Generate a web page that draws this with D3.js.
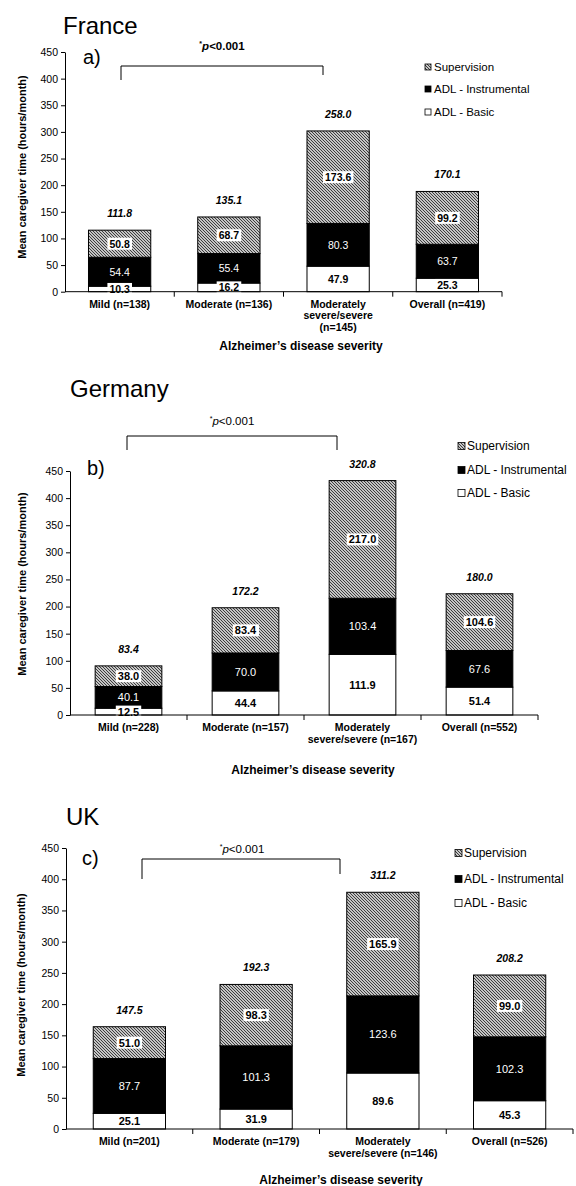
<!DOCTYPE html>
<html>
<head>
<meta charset="utf-8">
<script src="https://cdn.jsdelivr.net/npm/d3@7"></script>
<style>
  body { margin: 0; background: #fff; }
  svg { display: block; font-family: "Liberation Sans", Arial, Helvetica, sans-serif; }
</style>
</head>
<body>
<svg id="chart" width="576" height="1186"></svg>
<script>
// ---- data (hours/month) ----
const seriesNames = ["Supervision", "ADL - Instrumental", "ADL - Basic"];
const yTickValues = [0, 50, 100, 150, 200, 250, 300, 350, 400, 450];

const franceBasic        = [10.3, 16.2, 47.9, 25.3];
const franceInstrumental = [54.4, 55.4, 80.3, 63.7];
const franceSupervision  = [50.8, 68.7, 173.6, 99.2];
const franceTotals       = [111.8, 135.1, 258.0, 170.1];
const franceTickLabels   = [["Mild (n=138)"], ["Moderate (n=136)"], ["Moderately", "severe/severe", "(n=145)"], ["Overall (n=419)"]];

const germanyBasic        = [12.5, 44.4, 111.9, 51.4];
const germanyInstrumental = [40.1, 70.0, 103.4, 67.6];
const germanySupervision  = [38.0, 83.4, 217.0, 104.6];
const germanyTotals       = [83.4, 172.2, 320.8, 180.0];
const germanyTickLabels   = [["Mild (n=228)"], ["Moderate (n=157)"], ["Moderately", "severe/severe (n=167)"], ["Overall (n=552)"]];

const ukBasic        = [25.1, 31.9, 89.6, 45.3];
const ukInstrumental = [87.7, 101.3, 123.6, 102.3];
const ukSupervision  = [51.0, 98.3, 165.9, 99.0];
const ukTotals       = [147.5, 192.3, 311.2, 208.2];
const ukTickLabels   = [["Mild (n=201)"], ["Moderate (n=179)"], ["Moderately", "severe/severe (n=146)"], ["Overall (n=526)"]];

const svg = d3.select("#chart");

// diagonal hatch used for the Supervision component
const defs = svg.append("defs");
const hatch = defs.append("pattern")
  .attr("id", "hatch").attr("patternUnits", "userSpaceOnUse")
  .attr("width", 3).attr("height", 3);
hatch.append("rect").attr("width", 3).attr("height", 3).attr("fill", "#fff");
hatch.append("path")
  .attr("d", "M-1,-1L4,4M-1,2L1,4M2,-1L4,1")
  .attr("stroke", "#333").attr("stroke-width", 1.1);

const fills = { sup: "url(#hatch)", ins: "#000", bas: "#fff" };

// layout for each country panel
const panels = [
  {
    title: "France", titleX: 63, titleY: 34, tag: "a)", tagX: 83, tagY: 64,
    x0: 65, x1: 502, yZero: 291.7, yTop: 52,
    basic: franceBasic, instr: franceInstrumental, sup: franceSupervision,
    totals: franceTotals, ticks: franceTickLabels,
    bracket: { l: 121, r: 323, y: 66, lb: 80, rb: 75, tx: 222, ty: 50, bold: true },
    legend: { sx: 425, tx: 434, ys: [67, 89, 112], size: 11.5, sw: 6 },
    yTitle: { x: 22, y: 167 }, xTitle: { x: 301, y: 350 },
    labelSize: 10.5, tickSize: 10.5
  },
  {
    title: "Germany", titleX: 70, titleY: 397, tag: "b)", tagX: 87, tagY: 475,
    x0: 70, x1: 538, yZero: 715, yTop: 471,
    basic: germanyBasic, instr: germanyInstrumental, sup: germanySupervision,
    totals: germanyTotals, ticks: germanyTickLabels,
    bracket: { l: 127, r: 337, y: 436, lb: 450, rb: 450, tx: 232, ty: 425, bold: false },
    legend: { sx: 458, tx: 467, ys: [446, 470, 493], size: 12, sw: 7 },
    yTitle: { x: 22, y: 584 }, xTitle: { x: 313, y: 774 },
    labelSize: 11, tickSize: 10.5
  },
  {
    title: "UK", titleX: 66, titleY: 825, tag: "c)", tagX: 82, tagY: 865,
    x0: 66, x1: 573, yZero: 1129, yTop: 848,
    basic: ukBasic, instr: ukInstrumental, sup: ukSupervision,
    totals: ukTotals, ticks: ukTickLabels,
    bracket: { l: 142, r: 340, y: 859, lb: 879, rb: 874, tx: 242, ty: 853, bold: false },
    legend: { sx: 455, tx: 464, ys: [853, 879, 903], size: 12, sw: 7 },
    yTitle: { x: 21, y: 985 }, xTitle: { x: 341, y: 1184 },
    labelSize: 11, tickSize: 10.5
  }
];

panels.forEach(p => {
  const g = svg.append("g");
  const cats = d3.range(p.basic.length);

  const x = d3.scaleBand().domain(cats).range([p.x0, p.x1]).padding(0);
  const barW = x.bandwidth() * 0.57;
  const y = d3.scaleLinear().domain([0, 450]).range([p.yZero, p.yTop]);

  const rows = cats.map(i => ({
    i,
    bas: p.basic[i], ins: p.instr[i], sup: p.sup[i], total: p.totals[i]
  }));
  const stack = d3.stack().keys(["bas", "ins", "sup"])(rows);

  // titles
  g.append("text").attr("x", p.titleX).attr("y", p.titleY)
    .attr("font-size", 24).attr("fill", "#000").text(p.title);
  g.append("text").attr("x", p.tagX).attr("y", p.tagY)
    .attr("font-size", 20).attr("fill", "#000").text(p.tag);

  // stacked bars
  stack.forEach(layer => {
    g.append("g").selectAll("rect").data(layer).join("rect")
      .attr("x", d => x(d.data.i) + (x.bandwidth() - barW) / 2)
      .attr("y", d => y(d[1]))
      .attr("width", barW)
      .attr("height", d => y(d[0]) - y(d[1]))
      .attr("fill", fills[layer.key])
      .attr("stroke", "#000").attr("stroke-width", 1);
  });

  // segment labels
  stack.forEach(layer => {
    layer.forEach(d => {
      const cx = x(d.data.i) + x.bandwidth() / 2;
      const cy = y((d[0] + d[1]) / 2);
      const val = d.data[layer.key];
      const lg = g.append("g");
      const t = lg.append("text")
        .attr("x", cx).attr("y", cy)
        .attr("text-anchor", "middle").attr("dominant-baseline", "central")
        .attr("font-size", p.labelSize)
        .attr("font-weight", layer.key === "ins" ? "normal" : "bold")
        .attr("fill", layer.key === "ins" ? "#fff" : "#000")
        .text(val.toFixed(1));
      if (layer.key !== "ins") {
        const bb = t.node().getBBox();
        lg.insert("rect", "text")
          .attr("x", bb.x - 2).attr("y", bb.y)
          .attr("width", bb.width + 4).attr("height", bb.height)
          .attr("fill", "#fff");
      }
    });
  });

  // totals above bars
  const top = stack[stack.length - 1];
  g.append("g").selectAll("text").data(top).join("text")
    .attr("x", d => x(d.data.i) + x.bandwidth() / 2)
    .attr("y", d => y(d[1]) - 13)
    .attr("text-anchor", "middle")
    .attr("font-size", 10.5).attr("font-weight", "bold").attr("font-style", "italic")
    .text(d => d.data.total.toFixed(1));

  // y axis
  const yAxis = d3.axisLeft(y).tickValues(yTickValues).tickSize(4).tickPadding(3).tickSizeOuter(0);
  const ya = g.append("g").attr("transform", `translate(${p.x0},0)`).call(yAxis);
  ya.select(".domain").attr("stroke", "#000");
  ya.selectAll(".tick line").attr("stroke", "#000");
  ya.selectAll(".tick text").attr("font-size", p.tickSize)
    .attr("font-family", "Liberation Sans, Arial, sans-serif").attr("fill", "#000");

  // x axis with category boundary ticks
  const xa = g.append("g");
  xa.append("line").attr("x1", p.x0).attr("x2", p.x1)
    .attr("y1", p.yZero).attr("y2", p.yZero).attr("stroke", "#000");
  xa.selectAll("line.tk").data(cats.slice(1).concat([cats.length])).join("line")
    .attr("class", "tk")
    .attr("x1", i => i < cats.length ? x(i) : p.x1)
    .attr("x2", i => i < cats.length ? x(i) : p.x1)
    .attr("y1", p.yZero).attr("y2", p.yZero + 5).attr("stroke", "#000");

  // category labels
  cats.forEach(i => {
    const t = g.append("text")
      .attr("text-anchor", "middle")
      .attr("font-size", 10.5).attr("font-weight", "bold");
    p.ticks[i].forEach((line, k) => {
      t.append("tspan").attr("x", x(i) + x.bandwidth() / 2)
        .attr("y", p.yZero + 16 + k * 11.5).text(line);
    });
  });

  // axis titles
  g.append("text").attr("x", p.xTitle.x).attr("y", p.xTitle.y)
    .attr("text-anchor", "middle").attr("font-size", 12).attr("font-weight", "bold")
    .text("Alzheimer\u2019s disease severity");
  g.append("text")
    .attr("transform", `translate(${p.yTitle.x},${p.yTitle.y}) rotate(-90)`)
    .attr("text-anchor", "middle").attr("dominant-baseline", "central")
    .attr("font-size", 11).attr("font-weight", "bold")
    .text("Mean caregiver time (hours/month)");

  // significance bracket
  const b = p.bracket;
  g.append("path")
    .attr("d", `M${b.l},${b.lb}V${b.y}H${b.r}V${b.rb}`)
    .attr("fill", "none").attr("stroke", "#000").attr("stroke-width", 1);
  const pt = g.append("text").attr("x", b.tx).attr("y", b.ty)
    .attr("text-anchor", "middle").attr("font-size", 11.5)
    .attr("font-weight", b.bold ? "bold" : "normal");
  pt.append("tspan").attr("font-size", 7).attr("dy", -4).text("*");
  pt.append("tspan").attr("font-style", "italic").attr("dy", 4).text("p");
  pt.append("tspan").text("<0.001");

  // legend
  const L = p.legend;
  const legFills = [fills.sup, fills.ins, fills.bas];
  seriesNames.forEach((name, k) => {
    g.append("rect")
      .attr("x", L.sx).attr("y", L.ys[k] - L.sw / 2)
      .attr("width", L.sw).attr("height", L.sw)
      .attr("fill", legFills[k]).attr("stroke", "#000").attr("stroke-width", 0.8);
    g.append("text").attr("x", L.tx).attr("y", L.ys[k])
      .attr("dominant-baseline", "central").attr("font-size", L.size)
      .text(name);
  });
});
</script>
</body>
</html>
